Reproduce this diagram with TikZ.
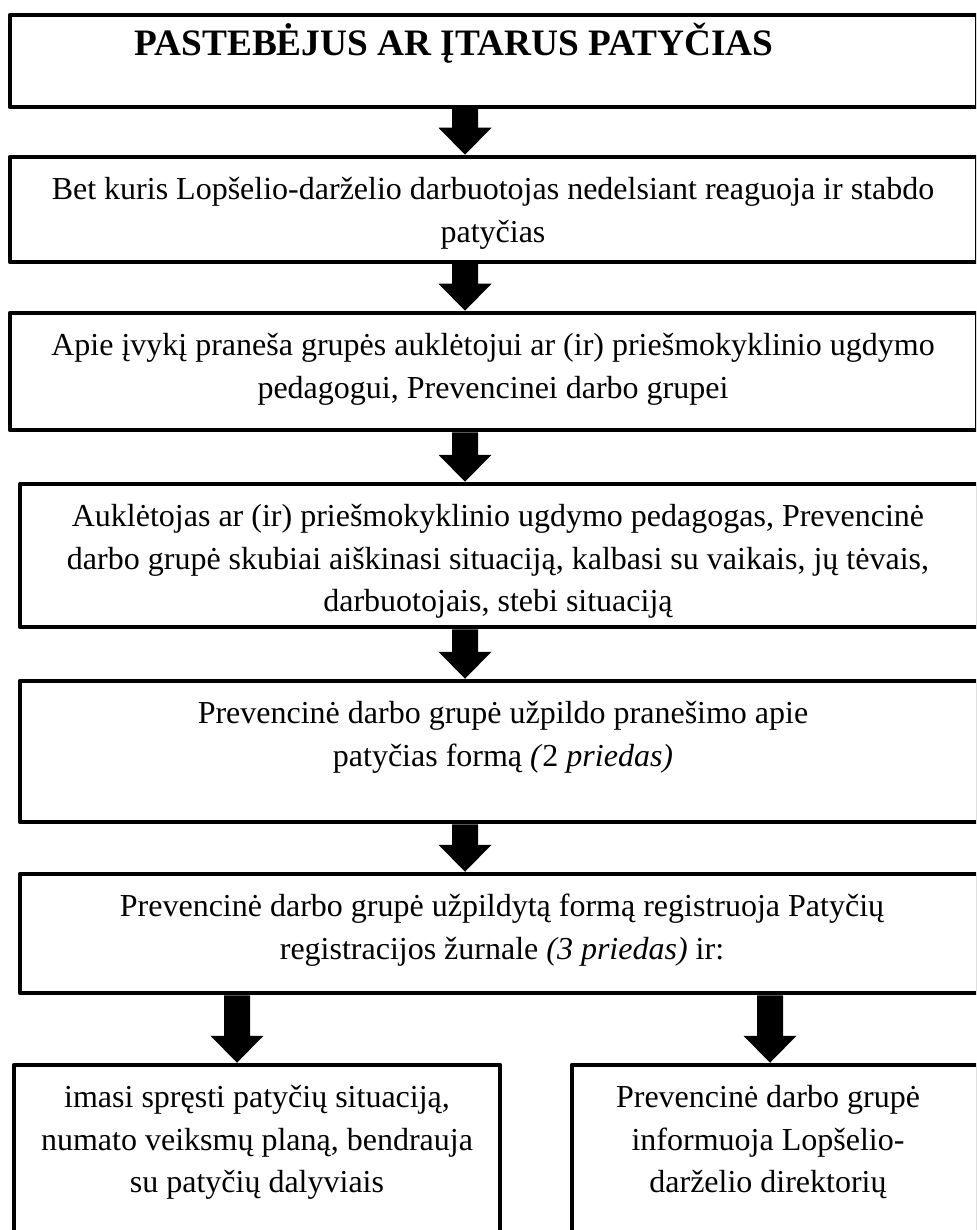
\documentclass[tikz,border=0pt]{standalone}
\usepackage{fontspec}
\setmainfont{Liberation Serif}
\usetikzlibrary{calc}
\begin{document}
\begin{tikzpicture}[x=1pt,y=-1pt,
  box/.style={draw=black, line width=4.5pt, line join=round, fill=white, inner sep=0pt, anchor=north west},
  txt/.style={align=center, inner sep=0pt, anchor=north, font=\fontsize{32}{42.3}\selectfont},
  ttl/.style={inner sep=0pt, anchor=base, font=\bfseries\fontsize{37.3}{43}\selectfont},
  barrow/.style={fill=black, draw=none, to path={let \p1=(\tikztostart), \p2=(\tikztotarget) in
     (\x1-13pt,\y1) -- (\x1+13pt,\y1) -- (\x1+13pt,\y2+27pt) -- (\x1+26.5pt,\y2+27pt) -- (\x1,\y2)
     -- (\x1-26.5pt,\y2+27pt) -- (\x1-13pt,\y2+27pt) -- cycle}}]
\useasboundingbox (0,0) rectangle (976,1230);
\fill[white] (0,0) rectangle (976,1230);
\clip (0,0) rectangle (976,1230);

% boxes (positions are outer corners)
\node[box, minimum width=967pt, minimum height=92pt]  (b1) at (7.75,12.75) {};
\node[box, minimum width=967pt, minimum height=105pt] (b2) at (7.75,154.75) {};
\node[box, minimum width=967pt, minimum height=117pt] (b3) at (7.75,310.75) {};
\node[box, minimum width=958pt, minimum height=143pt] (b4) at (17.75,481.75) {};
\node[box, minimum width=958pt, minimum height=141pt] (b5) at (17.75,678.75) {};
\node[box, minimum width=958pt, minimum height=119pt] (b6) at (17.75,871.75) {};
\node[box, minimum width=486pt, minimum height=240pt] (b7) at (11.75,1062.75) {};
\node[box, minimum width=406pt, minimum height=240pt] (b8) at (569.75,1062.75) {};

% texts
\node[ttl] (t1) at (454,56) {PASTEBĖJUS AR ĮTARUS PATYČIAS};
\node[txt] (t2) at (493,170) {\strut Bet kuris Lopšelio-darželio darbuotojas nedelsiant reaguoja ir stabdo\\patyčias};
\node[txt] (t3) at (493,326) {\strut Apie įvykį praneša grupės auklėtojui ar (ir) priešmokyklinio ugdymo\\pedagogui, Prevencinei darbo grupei};
\node[txt] (t4) at (498,497) {\strut Auklėtojas ar (ir) priešmokyklinio ugdymo pedagogas, Prevencinė\\darbo grupė skubiai aiškinasi situaciją, kalbasi su vaikais, jų tėvais,\\darbuotojais, stebi situaciją};
\node[txt] (t5) at (503,694) {\strut Prevencinė darbo grupė užpildo pranešimo apie\\patyčias formą \textit{(}2 \textit{priedas)}};
\node[txt] (t6) at (502,887) {\strut Prevencinė darbo grupė užpildytą formą registruoja Patyčių\\registracijos žurnale \textit{(3 priedas)} ir:};
\node[txt] (t7) at (257,1078) {\strut imasi spręsti patyčių situaciją,\\numato veiksmų planą, bendrauja\\su patyčių dalyviais};
\node[txt] (t8) at (768,1078) {\strut Prevencinė darbo grupė\\informuoja Lopšelio-\\darželio direktorių};

% arrows
\coordinate (ax) at (465,0);
\coordinate (axl) at (237,0);
\coordinate (axr) at (770,0);
\coordinate (a1s) at (b1.south -| ax); \coordinate (a1e) at (b2.north -| ax);
\coordinate (a2s) at (b2.south -| ax); \coordinate (a2e) at (b3.north -| ax);
\coordinate (a3s) at (b3.south -| ax); \coordinate (a3e) at (b4.north -| ax);
\coordinate (a4s) at (b4.south -| ax); \coordinate (a4e) at (b5.north -| ax);
\coordinate (a5s) at (b5.south -| ax); \coordinate (a5e) at (b6.north -| ax);
\coordinate (a6s) at (b6.south -| axl); \coordinate (a6e) at (b7.north -| axl);
\coordinate (a7s) at (b6.south -| axr); \coordinate (a7e) at (b8.north -| axr);
\draw[barrow] (a1s) to (a1e);
\draw[barrow] (a2s) to (a2e);
\draw[barrow] (a3s) to (a3e);
\draw[barrow] (a4s) to (a4e);
\draw[barrow] (a5s) to (a5e);
\draw[barrow] (a6s) to (a6e);
\draw[barrow] (a7s) to (a7e);
\end{tikzpicture}
\end{document}
